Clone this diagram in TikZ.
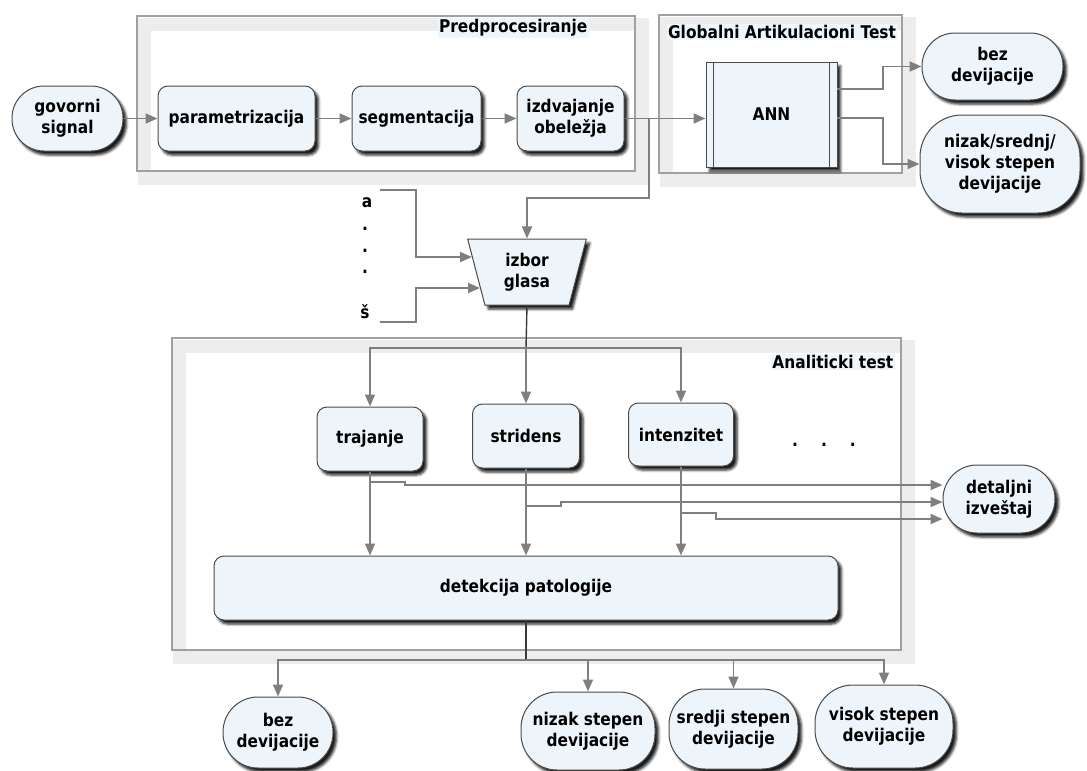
\documentclass[tikz,border=0pt]{standalone}
\usepackage{fontspec}
\setmainfont{DejaVu Sans}[FakeStretch=0.88]
\usetikzlibrary{arrows.meta,shapes.geometric,shadows.blur}

\definecolor{boxfill}{HTML}{EEF5FA}
\definecolor{boxline}{HTML}{4A4A4A}
\definecolor{arrowc}{HTML}{7F7F7F}
\definecolor{trunkc}{HTML}{3A3A3A}
\definecolor{framec}{HTML}{A0A0A0}
\definecolor{frshadow}{HTML}{EDEDED}
\definecolor{lblbg}{HTML}{EEF6FB}

\begin{document}
\begin{tikzpicture}[x=1pt,y=-1pt,
  txt/.style={font=\fontsize{17.5}{21}\selectfont\bfseries, align=center, text=black},
  bshadow/.style={blur shadow={shadow xshift=3.5pt, shadow yshift=-4pt, shadow blur radius=2.5pt, shadow opacity=90}},
  box/.style={txt, draw=boxline, line width=1pt, fill=boxfill, inner sep=0pt, rectangle, bshadow},
  rbox/.style={box, rounded corners=10pt},
  frameline/.style={draw=framec, line width=1.2pt},
  frameshadow/.style={draw=frshadow, line width=13pt},
  lbl/.style={txt, fill=lblbg, inner sep=1.5pt},
  arr/.style={draw=arrowc, line width=1.8pt, -{Triangle[length=12pt,width=10pt]}},
  trunk/.style={draw=trunkc, line width=1.4pt},
]
\useasboundingbox (0,0) rectangle (1087,771);

% frames
\draw[frameshadow] (144,24) rectangle (642,178);
\draw[frameline] (137,16) rectangle (635,171);
\draw[frameshadow] (666,23) rectangle (909,180);
\draw[frameline] (659,15) rectangle (902,173);
\draw[frameshadow] (179,346) rectangle (908,657);
\draw[frameline] (172,338) rectangle (901,650);

\node[lbl, anchor=east] (lpre) at (589,28) {Predprocesiranje};
\node[lbl] (lglob) at (782,32) {Globalni Artikulacioni Test};
\node[lbl, anchor=east] (lana) at (895,362) {Analiticki test};

% top row
\node[box, rounded corners=32pt, minimum width=111pt, minimum height=65pt] (gov) at (67.5,118.5) {govorni\\signal};
\node[rbox, minimum width=157pt, minimum height=65pt] (par) at (236.5,118.5) {parametrizacija};
\node[rbox, minimum width=129pt, minimum height=65pt] (seg) at (416.5,118.5) {segmentacija};
\node[rbox, minimum width=107pt, minimum height=65pt] (izd) at (570.5,118.5) {izdvajanje\\obeležja};

\node[box, minimum width=131pt, minimum height=105pt] (ann) at (771.5,114.5) {ANN};
\draw[boxline, line width=1pt] ([xshift=8pt]ann.north west) -- ([xshift=8pt]ann.south west);
\draw[boxline, line width=1pt] ([xshift=-8pt]ann.north east) -- ([xshift=-8pt]ann.south east);

\node[box, rounded corners=33pt, minimum width=141pt, minimum height=67pt] (beztop) at (992.5,66.5) {bez\\devijacije};
\node[box, rounded corners=42pt, minimum width=160pt, minimum height=98pt] (nsv) at (1000,164) {nizak/srednj/\\visok stepen\\devijacije};

% izbor glasa
\node[txt, trapezium, trapezium left angle=76, trapezium right angle=76, shape border rotate=180,
      trapezium stretches=true, minimum width=119pt, minimum height=66pt, inner sep=0pt,
      draw=boxline, line width=1pt, fill=boxfill, bshadow]
      (izbor) at (527,272) {izbor\\glasa};

\node[txt, anchor=base] (la) at (367,207) {a};
\node[txt, anchor=base] (d1) at (365,230) {.};
\node[txt, anchor=base] (d2) at (365,252) {.};
\node[txt, anchor=base] (d3) at (365,273) {.};
\node[txt, anchor=base] (ls) at (365,318) {š};

% analiticki
\node[rbox, minimum width=106pt, minimum height=64pt] (traj) at (370,439) {trajanje};
\node[rbox, minimum width=107pt, minimum height=64pt] (strid) at (526,436) {stridens};
\node[rbox, minimum width=105pt, minimum height=63pt] (inten) at (681,434.5) {intenzitet};
\node[txt, anchor=base] (more) at (824,446) {.\hspace{23pt}.\hspace{23pt}.};
\node[rbox, minimum width=624pt, minimum height=64pt] (det) at (526,588) {detekcija patologije};
\node[box, rounded corners=34pt, minimum width=112pt, minimum height=68pt] (detal) at (999,499) {detaljni\\izveštaj};

% bottom
\node[box, rounded corners=35pt, minimum width=110pt, minimum height=71pt] (bezb) at (278,732.5) {bez\\devijacije};
\node[box, rounded corners=36pt, minimum width=134pt, minimum height=78pt] (niz) at (588,731) {nizak stepen\\devijacije};
\node[box, rounded corners=36pt, minimum width=129pt, minimum height=80pt] (sre) at (733.5,729) {sredji stepen\\devijacije};
\node[box, rounded corners=38pt, minimum width=138pt, minimum height=83pt] (vis) at (884,726.5) {visok stepen\\devijacije};

% connectors top
\draw[arr] (gov) -- (par);
\draw[arr] (par) -- (seg);
\draw[arr] (seg) -- (izd);
\draw[arr] (izd.east) -- (izd.east -| ann.west);
\coordinate (j1) at (649,118.5);
\coordinate (j2) at (649,198);
\draw[arr] (j1) -- (j2) -| (izbor.north);
\coordinate (ao1) at (837,89);
\coordinate (ao1b) at (883,89);
\coordinate (ao2) at (837,118);
\coordinate (ao2b) at (883,118);
\draw[arr] (ao1) -- (ao1b) |- (beztop.west);
\draw[arr] (ao2) -- (ao2b) |- (nsv.west);

% a / š inputs
\coordinate (sa) at (380,190);
\coordinate (sa1) at (416,190);
\coordinate (sa2) at (416,257);
\coordinate (ea) at (472,257);
\draw[arr] (sa) -- (sa1) -- (sa2) -- (ea);
\coordinate (ss) at (380,322);
\coordinate (ss1) at (416,322);
\coordinate (ss2) at (416,288);
\coordinate (es) at (480,288);
\draw[arr] (ss) -- (ss1) -- (ss2) -- (es);

% analiticki connectors
\coordinate (b0) at (526,348);
\draw[trunk] (izbor.south) -- (b0);
\draw[arr] (b0) -| (traj.north);
\draw[arr] (b0) -- (strid.north);
\draw[arr] (b0) -| (inten.north);
\draw[arr] (traj.south) -- (traj.south |- det.north);
\draw[arr] (strid.south) -- (strid.south |- det.north);
\draw[arr] (inten.south) -- (inten.south |- det.north);

\coordinate (t1) at (370,482);
\coordinate (t2) at (405,482);
\coordinate (t3) at (405,485);
\draw[arr] (t1) -- (t2) -- (t3) -- ([yshift=14pt]detal.west);
\coordinate (s1) at (526,506);
\coordinate (s2) at (561,506);
\coordinate (s3) at (561,502);
\draw[arr] (s1) -- (s2) -- (s3) -- ([yshift=-3pt]detal.west);
\coordinate (i1) at (681,513);
\coordinate (i2) at (716,513);
\coordinate (i3) at (716,519);
\draw[arr] (i1) -- (i2) -- (i3) -- ([yshift=-20pt]detal.west);

% bottom connectors
\coordinate (c0) at (526,660);
\draw[trunk] (det.south) -- (c0);
\draw[arr] (c0) -| (bezb.north);
\draw[arr] (c0) -| (niz.north);
\draw[arr] (c0) -| (sre.north);
\draw[arr] (c0) -| (vis.north);
\end{tikzpicture}
\end{document}
